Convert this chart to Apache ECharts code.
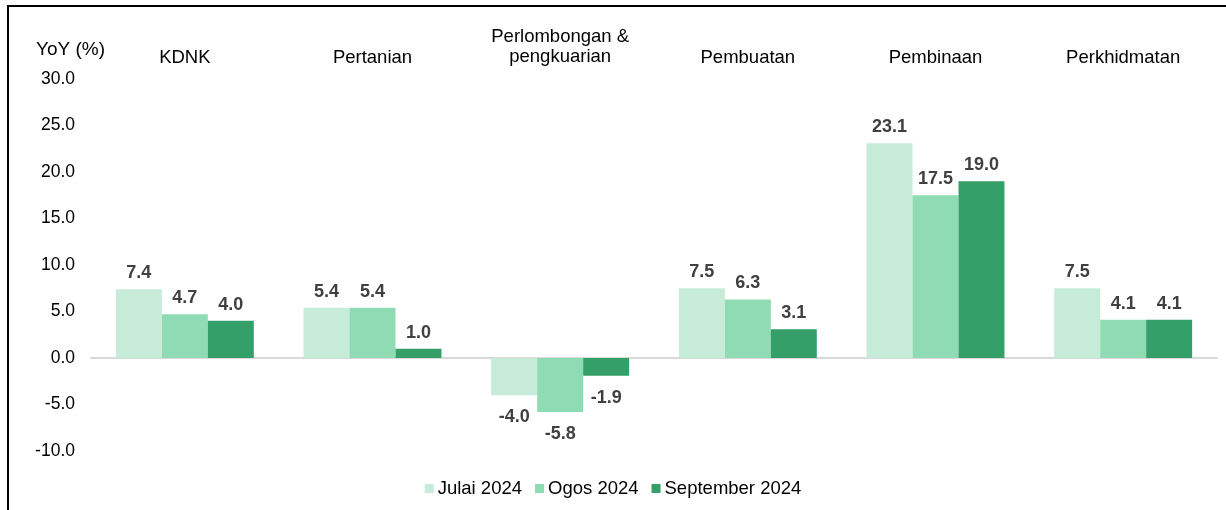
<!DOCTYPE html>
<html>
<head>
<meta charset="utf-8">
<script src="https://cdn.jsdelivr.net/npm/echarts@6/dist/echarts.min.js"></script>
<style>
html,body{margin:0;padding:0;background:#fff;}
#wrap{position:absolute;left:0;top:0;width:1226px;height:510px;}
#frame{position:absolute;left:7px;top:5px;width:1230px;height:520px;border-left:2px solid #000;border-top:2px solid #000;box-sizing:border-box;}
#chart{position:absolute;left:0;top:0;width:1226px;height:510px;}
</style>
</head>
<body>
<div id="wrap"><div id="frame"></div><div id="chart"></div></div>
<script>
const categories = ['KDNK', 'Pertanian', 'Perlombongan &\npengkuarian', 'Pembuatan', 'Pembinaan', 'Perkhidmatan'];
const seriesNames = ['Julai 2024', 'Ogos 2024', 'September 2024'];
const julai = [7.4, 5.4, -4.0, 7.5, 23.1, 7.5];
const ogos = [4.7, 5.4, -5.8, 6.3, 17.5, 4.1];
const september = [4.0, 1.0, -1.9, 3.1, 19.0, 4.1];
const colors = ['#c6ebd8', '#8fdcb4', '#359f69'];
const yTicks = [-10, -5, 0, 5, 10, 15, 20, 25, 30];

const FONT = '"Liberation Sans", Arial, sans-serif';
const chart = echarts.init(document.getElementById('chart'), null, {renderer: 'canvas'});

function mkSeries(name, vals, color) {
  return {
    name: name,
    type: 'bar',
    xAxisIndex: 0,
    barGap: '0%',
    barCategoryGap: '26.5%',
    itemStyle: {color: color},
    data: vals.map(v => ({
      value: v,
      label: {position: v < 0 ? 'bottom' : 'top', distance: v < 0 ? 13 : 7}
    })),
    label: {
      show: true,
      fontFamily: FONT,
      fontSize: 18,
      fontWeight: 'bold',
      color: '#404040',
      formatter: p => p.value.toFixed(1)
    }
  };
}

chart.setOption({
  animation: false,
  textStyle: {fontFamily: FONT},
  title: {
    text: 'YoY (%)',
    left: 31, top: 35,
    textStyle: {fontFamily: FONT, fontSize: 19, fontWeight: 'normal', color: '#000'}
  },
  grid: {left: 91, right: 9, top: 79, bottom: 59, containLabel: false},
  legend: {
    data: seriesNames,
    bottom: 7,
    left: 'center',
    icon: 'rect',
    itemWidth: 9,
    itemHeight: 9,
    itemGap: 13,
    textStyle: {fontFamily: FONT, fontSize: 18.5, color: '#000', padding: [0, 0, 0, -1]}
  },
  xAxis: [
    {
      type: 'category',
      data: categories,
      position: 'bottom',
      axisLine: {show: true, onZero: true, lineStyle: {color: '#d9d9d9', width: 2}},
      axisTick: {show: false},
      axisLabel: {show: false}
    },
    {
      type: 'category',
      data: categories.map((c, i) => c.indexOf('\n') >= 0 ? {value: c, textStyle: {padding: [0, 0, 1, 0]}} : c),
      position: 'top',
      axisLine: {show: false},
      axisTick: {show: false},
      axisLabel: {
        show: true,
        interval: 0,
        margin: 11,
        fontFamily: FONT,
        fontSize: 18.5,
        lineHeight: 20,
        color: '#000'
      }
    }
  ],
  yAxis: {
    type: 'value',
    min: yTicks[0],
    max: yTicks[yTicks.length - 1],
    interval: 5,
    axisLine: {show: false},
    axisTick: {show: false},
    splitLine: {show: false},
    axisLabel: {
      fontFamily: FONT,
      fontSize: 17.5,
      color: '#000',
      margin: 16,
      formatter: v => v.toFixed(1)
    }
  },
  series: [
    mkSeries(seriesNames[0], julai, colors[0]),
    mkSeries(seriesNames[1], ogos, colors[1]),
    mkSeries(seriesNames[2], september, colors[2])
  ]
});
</script>
</body>
</html>
